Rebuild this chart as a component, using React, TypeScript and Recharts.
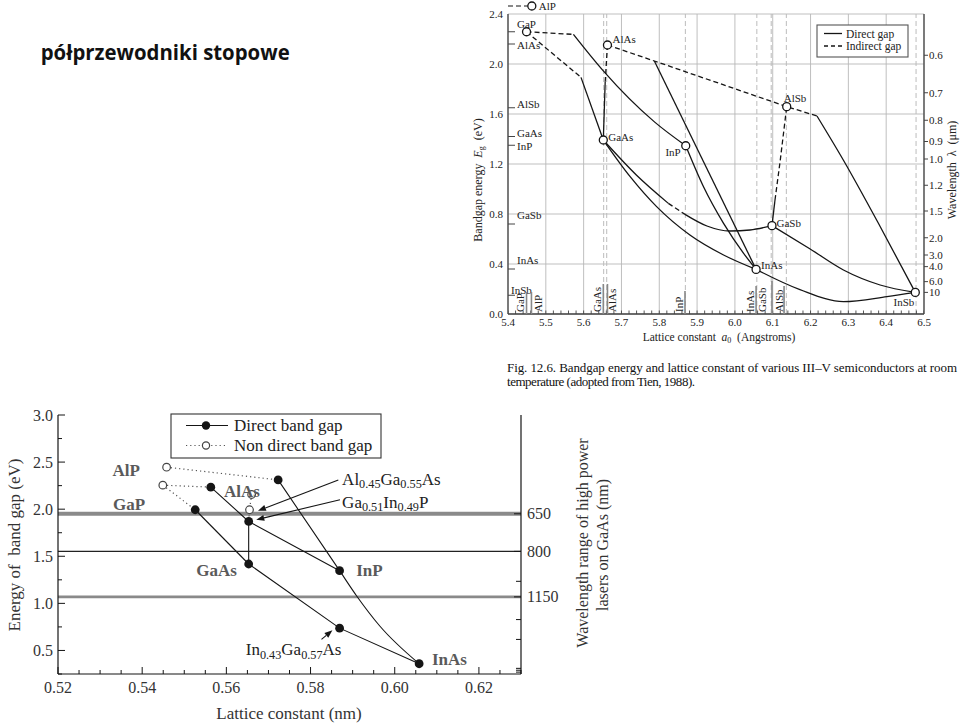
import React from 'react'
import { ComposedChart, Line, Scatter, XAxis, YAxis, CartesianGrid, ReferenceLine, ReferenceDot } from 'recharts'

const SERIF = '"Liberation Serif", "Times New Roman", serif'
const SANS = '"Open Sans", "Noto Sans", sans-serif'
const FRAME = '#444'
const INK = '#151515'

type P = [number, number]
const pts = (arr: P[]) => arr.map(([a, e]) => ({ a, e }))

// ---------------- upper figure: lattice constant (Å) vs band gap (eV) ----------------
const T_X_TICKS = [5.4, 5.5, 5.6, 5.7, 5.8, 5.9, 6.0, 6.1, 6.2, 6.3, 6.4, 6.5]
const T_X_MINOR = Array.from({ length: 56 }, (_, i) => +(5.4 + i * 0.02).toFixed(2))
const T_Y_TICKS = [0, 0.4, 0.8, 1.2, 1.6, 2.0, 2.4]
const T_WL_LABELS = ['0.6', '0.7', '0.8', '0.9', '1.0', '1.2', '1.5', '2.0', '3.0', '4.0', '6.0', '10']
const T_WL_EG = [2.07, 1.77, 1.55, 1.38, 1.24, 1.03, 0.824, 0.61, 0.472, 0.379, 0.259, 0.173]

const BIN_NAMES = ['GaP', 'AlAs', 'GaAs', 'InP', 'AlSb', 'GaSb', 'InAs', 'InSb']
const BIN_A = [5.449, 5.663, 5.652, 5.87, 6.137, 6.098, 6.056, 6.477]
const BIN_EG = [2.258, 2.152, 1.392, 1.346, 1.659, 0.707, 0.357, 0.173]
const ALP_A = 5.463
const ALP_EG = 2.464

// material lattice constants marked by dashed verticals
const T_MAT_LINES = [5.653, 5.661, 5.869, 6.058, 6.096, 6.136, 6.479]
const FOOT_NAMES = ['GaP', 'AlP', 'GaAs', 'AlAs', 'InP', 'InAs', 'GaSb', 'AlSb']
const FOOT_A = [5.449, 5.462, 5.652, 5.663, 5.868, 6.056, 6.098, 6.13]
const EDGE_NAMES = ['AlAs', 'AlSb', 'GaAs', 'InP', 'GaSb', 'InAs', 'InSb']
const EDGE_TEXT_EG = [2.152, 1.677, 1.445, 1.345, 0.792, 0.43, 0.19]
const EDGE_TICK_EG = [2.258, 2.16, 1.65, 1.42, 1.35, 0.72, 0.36, 0.15]

// alloy curves (dashed = indirect gap)
const GAP_INP_IND: P[] = [[5.449, 2.258], [5.573, 2.237]]
const GAP_INP: P[] = [[5.573, 2.237], [5.652, 1.945], [5.788, 1.535], [5.87, 1.346]]
const GAP_GAAS_IND: P[] = [[5.449, 2.258], [5.593, 1.893]]
const GAP_GAAS: P[] = [[5.593, 1.893], [5.652, 1.392]]
const ALAS_GAAS_IND: P[] = [[5.663, 2.152], [5.657, 1.858]]
const ALAS_GAAS: P[] = [[5.657, 1.858], [5.652, 1.392]]
const ALAS_ALSB_IND: P[] = [[5.663, 2.152], [5.787, 2.024], [6.137, 1.659], [6.217, 1.584]]
const ALAS_INAS: P[] = [[5.787, 2.024], [6.056, 0.357]]
const GAAS_INAS: P[] = [[5.652, 1.392], [5.723, 1.099], [5.793, 0.859], [5.881, 0.632], [5.97, 0.472], [6.056, 0.357]]
const GAAS_GASB_1: P[] = [[5.652, 1.392], [5.74, 1.11], [5.824, 0.885]]
const GAAS_GASB_GAP: P[] = [[5.824, 0.885], [5.868, 0.797]]
const GAAS_GASB_2: P[] = [[5.868, 0.797], [5.926, 0.704], [5.987, 0.664], [6.04, 0.672], [6.098, 0.707]]
const INP_INAS: P[] = [[5.87, 1.346], [5.917, 1.018], [5.97, 0.725], [6.023, 0.485], [6.056, 0.357]]
const GASB_ALSB: P[] = [[6.098, 0.707], [6.106, 0.912]]
const GASB_ALSB_IND: P[] = [[6.106, 0.912], [6.12, 1.232], [6.137, 1.659]]
const GASB_INSB: P[] = [[6.098, 0.707], [6.199, 0.52], [6.287, 0.352], [6.384, 0.232], [6.477, 0.173]]
const INAS_INSB: P[] = [[6.056, 0.357], [6.172, 0.195], [6.287, 0.099], [6.402, 0.139], [6.477, 0.173]]
const ALSB_INSB: P[] = [[6.217, 1.584], [6.287, 1.23], [6.384, 0.7], [6.477, 0.173]]

const T_SOLID = [GAP_INP, GAP_GAAS, ALAS_INAS, GAAS_INAS, GAAS_GASB_1, GAAS_GASB_2, INP_INAS, GASB_ALSB, GASB_INSB, INAS_INSB, ALSB_INSB]
const T_DASHED = [GAP_INP_IND, GAP_GAAS_IND, ALAS_ALSB_IND, GAAS_GASB_GAP, GASB_ALSB_IND]

const BIN_LABEL: Record<string, { dx: number; dy: number; anchor: 'start' | 'middle' | 'end' }> = {
  GaP: { dx: 0, dy: -8, anchor: 'middle' },
  AlAs: { dx: 5, dy: -6, anchor: 'start' },
  GaAs: { dx: 5, dy: -3, anchor: 'start' },
  InP: { dx: -5, dy: 6, anchor: 'end' },
  AlSb: { dx: -3, dy: -8.5, anchor: 'start' },
  GaSb: { dx: 4.5, dy: -2, anchor: 'start' },
  InAs: { dx: 5, dy: -4, anchor: 'start' },
  InSb: { dx: -1, dy: 9.5, anchor: 'end' },
}
const FOOT_STYLE: Record<string, { h: number; dx: number }> = {
  GaP: { h: 22, dx: -6.5 }, AlP: { h: 22, dx: 7 }, GaAs: { h: 30, dx: -6 }, AlAs: { h: 30, dx: 5 },
  InP: { h: 23, dx: -6 }, InAs: { h: 28, dx: -6 }, GaSb: { h: 33, dx: -9.5 }, AlSb: { h: 28, dx: -5 },
}

// ---------------- lower figure: lattice constant (nm) vs band gap (eV) ----------------
const B_X_TICKS = Array.from({ length: 23 }, (_, i) => +(0.52 + i * 0.005).toFixed(3))
const B_Y_TICKS = Array.from({ length: 12 }, (_, i) => +(0.25 + i * 0.25).toFixed(2))
const B_WL_LABELS = ['650', '800', '1150']
const B_WL_EG = [1.951, 1.552, 1.069]
const B_WL_MINOR = [1.234, 0.828, 0.617, 0.31, 0.29, 0.27]

const DIRECT_A = [0.5526, 0.5563, 0.5723, 0.5653, 0.5653, 0.5869, 0.5869, 0.6058]
const DIRECT_EG = [1.994, 2.234, 2.311, 1.87, 1.418, 1.347, 0.737, 0.359]
const INDIRECT_A = [0.5458, 0.5449, 0.566, 0.5655]
const INDIRECT_EG = [2.446, 2.255, 2.156, 1.994]

const B_GAASP: P[] = [[0.5526, 1.994], [0.5653, 1.418]]
const B_GAINAS: P[] = [[0.5653, 1.418], [0.5869, 0.737], [0.6058, 0.359]]
const B_GAINP: P[] = [[0.5563, 2.234], [0.5653, 1.87], [0.5869, 1.347]]
const B_INASP: P[] = [[0.5723, 2.311], [0.5869, 1.347], [0.591, 1.076], [0.5965, 0.757], [0.6058, 0.359]]
const B_ALGAAS: P[] = [[0.5653, 1.418], [0.5653, 1.87]]
const B_ALP_DOT: P[] = [[0.5458, 2.446], [0.5723, 2.311]]
const B_GAP_DOT1: P[] = [[0.5449, 2.255], [0.5563, 2.234]]
const B_GAP_DOT2: P[] = [[0.5449, 2.255], [0.5526, 1.994]]
const B_ALAS_DOT: P[] = [[0.566, 2.156], [0.5655, 1.994], [0.5653, 1.87]]

const B_LBL_TEXT = ['AlP', 'GaP', 'AlAs', 'GaAs', 'InP', 'InAs']
const B_LBL_A = [0.5362, 0.5369, 0.5637, 0.5577, 0.594, 0.613]
const B_LBL_EG = [2.417, 2.057, 2.19, 1.358, 1.358, 0.405]
const B_NOTE_TEXT = ['Al_{0.45}Ga_{0.55}As', 'Ga_{0.51}In_{0.49}P', 'In_{0.43}Ga_{0.57}As']
const B_NOTE_A = [0.5875, 0.5875, 0.5646]
const B_NOTE_EG = [2.32, 2.08, 0.511]
const B_ARROWS: [P, P][] = [
  [[0.5866, 2.311], [0.5675, 1.983]],
  [[0.587, 2.1], [0.5671, 1.888]],
  [[0.5826, 0.617], [0.5852, 0.715]],
]

// ---------------- helpers ----------------
function SubText({ x, y, text, size, anchor = 'start', weight = 400, fill = INK }: any) {
  const parts = String(text).split(/(_\{[^}]*\})/).filter(Boolean)
  let low = false
  return (
    <text x={x} y={y} fontSize={size} fontWeight={weight} textAnchor={anchor} fontFamily={SERIF} fill={fill} dominantBaseline="central">
      {parts.map((p, i) => {
        if (p.startsWith('_{')) {
          low = true
          return <tspan key={i} dy={size * 0.32} fontSize={size * 0.72}>{p.slice(2, -1)}</tspan>
        }
        const dy = low ? -size * 0.32 : 0
        low = false
        return <tspan key={i} dy={dy}>{p}</tspan>
      })}
    </text>
  )
}

const near = (list: number[], v: number) => list.findIndex((t) => Math.abs(t - v) < 1e-6)

const TopXTick = ({ x, y, payload }: any) => (
  <text x={x} y={y + 12} textAnchor="middle" fontSize={11} fontFamily={SERIF} fill="#222">{payload.value.toFixed(1)}</text>
)
const TopYTick = ({ x, y, payload }: any) => (
  <text x={x - 5} y={y} dy="0.35em" textAnchor="end" fontSize={11} fontFamily={SERIF} fill="#222">{payload.value.toFixed(1)}</text>
)
const TopWlTick = ({ x, y, payload }: any) => {
  const i = near(T_WL_EG, payload.value)
  return (
    <g>
      <line x1={x} y1={y} x2={x + 4} y2={y} stroke={FRAME} strokeWidth={1} />
      <text x={x + 5} y={y} dy="0.35em" textAnchor="start" fontSize={11} fontFamily={SERIF} fill="#222">{i >= 0 ? T_WL_LABELS[i] : ''}</text>
    </g>
  )
}

const isMajorX = (v: number) => Math.abs(v * 50 - Math.round(v * 50)) < 1e-6
const isMajorY = (v: number) => Math.abs(v * 2 - Math.round(v * 2)) < 1e-6

const BotXTick = ({ x, y, payload }: any) => {
  const major = isMajorX(payload.value)
  return (
    <g>
      <line x1={x} y1={y} x2={x} y2={y - (major ? 7 : 4)} stroke={INK} strokeWidth={1} />
      {major && <text x={x} y={y + 19} textAnchor="middle" fontSize={16} fontFamily={SERIF} fill="#333">{payload.value.toFixed(2)}</text>}
    </g>
  )
}
const TopEdgeTick = ({ x, y, payload }: any) => (
  <line x1={x} y1={y} x2={x} y2={y + (isMajorX(payload.value) ? 7 : 4)} stroke={INK} strokeWidth={1} />
)
const BotYTick = ({ x, y, payload }: any) => {
  const major = isMajorY(payload.value)
  return (
    <g>
      <line x1={x} y1={y} x2={x + (major ? 7 : 4)} y2={y} stroke={INK} strokeWidth={1} />
      {major && <text x={x - 5} y={y} dy="0.35em" textAnchor="end" fontSize={16} fontFamily={SERIF} fill="#333">{payload.value.toFixed(1)}</text>}
    </g>
  )
}
const BotWlTick = ({ x, y, payload }: any) => {
  const i = near(B_WL_EG, payload.value)
  return (
    <g>
      <line x1={x} y1={y} x2={x - (i >= 0 ? 7 : 5)} y2={y} stroke={INK} strokeWidth={1} />
      {i >= 0 && <text x={x + 6} y={y} dy="0.35em" textAnchor="start" fontSize={16} fontFamily={SERIF} fill="#333">{B_WL_LABELS[i]}</text>}
    </g>
  )
}

const Arrow = ({ x1, y1, x2, y2 }: any) => {
  const ang = Math.atan2(y2 - y1, x2 - x1)
  const L = 8
  const W = 3
  const bx = x2 - L * Math.cos(ang)
  const by = y2 - L * Math.sin(ang)
  const nx = -Math.sin(ang) * W
  const ny = Math.cos(ang) * W
  return (
    <g>
      <line x1={x1} y1={y1} x2={bx} y2={by} stroke={INK} strokeWidth={1.1} />
      <polygon points={`${x2},${y2} ${bx + nx},${by + ny} ${bx - nx},${by - ny}`} fill={INK} />
    </g>
  )
}

// ---------------- charts ----------------
function TopChart() {
  const binaries = BIN_NAMES.map((name, i) => ({ name, a: BIN_A[i], e: BIN_EG[i] }))
  const foot = FOOT_NAMES.map((name, i) => ({ name, a: FOOT_A[i], e: 0 }))
  const edgeText = EDGE_NAMES.map((name, i) => ({ name, a: 5.4, e: EDGE_TEXT_EG[i] }))
  const edgeTicks = EDGE_TICK_EG.map((e) => ({ a: 5.4, e }))
  const minor = T_X_MINOR.map((a) => ({ a, e: 0 }))
  return (
    <ComposedChart width={490} height={345} margin={{ top: 14, right: 0, bottom: 0, left: 0 }}>
      <CartesianGrid stroke="#b8b8b8" strokeWidth={0.9} />
      <XAxis dataKey="a" type="number" domain={[5.4, 6.5]} allowDataOverflow ticks={T_X_TICKS} interval={0} height={31}
        tickLine={false} tickSize={0} tickMargin={0} axisLine={{ stroke: FRAME, strokeWidth: 1.3 }} tick={TopXTick} />
      <XAxis xAxisId="frame" orientation="top" type="number" domain={[5.4, 6.5]} allowDataOverflow height={0}
        tick={false} tickLine={false} axisLine={{ stroke: FRAME, strokeWidth: 1.3 }} />
      <YAxis type="number" domain={[0, 2.4]} allowDataOverflow ticks={T_Y_TICKS} interval={0} width={38}
        tickLine={false} tickSize={0} tickMargin={0} axisLine={{ stroke: FRAME, strokeWidth: 1.3 }} tick={TopYTick} />
      <YAxis yAxisId="wl" orientation="right" type="number" domain={[0, 2.4]} allowDataOverflow ticks={T_WL_EG} interval={0} width={36}
        tickLine={false} tickSize={0} tickMargin={0} axisLine={{ stroke: FRAME, strokeWidth: 1.3 }} tick={TopWlTick} />

      {T_MAT_LINES.map((v) => (
        <ReferenceLine key={v} x={v} stroke="#bcbcbc" strokeWidth={1} strokeDasharray="5 3" />
      ))}

      {T_SOLID.map((c, i) => (
        <Line key={'s' + i} data={pts(c)} dataKey="e" type={c === GAP_GAAS ? 'linear' : 'monotone'} stroke={INK}
          strokeWidth={1.3} dot={false} activeDot={false} isAnimationActive={false} />
      ))}
      {T_DASHED.map((c, i) => (
        <Line key={'d' + i} data={pts(c)} dataKey="e" type="linear" stroke={INK} strokeWidth={1.3}
          strokeDasharray="5 3" dot={false} activeDot={false} isAnimationActive={false} />
      ))}
      <Line data={pts(ALAS_GAAS_IND)} dataKey="e" type="linear" stroke={INK} strokeWidth={1.3} strokeDasharray="5 3" dot={false} activeDot={false} isAnimationActive={false} />
      <Line data={pts(ALAS_GAAS)} dataKey="e" type="linear" stroke={INK} strokeWidth={1.3} dot={false} activeDot={false} isAnimationActive={false} />

      <ReferenceLine segment={[{ x: 5.4, y: ALP_EG }, { x: ALP_A, y: ALP_EG }]} ifOverflow="visible" stroke={INK} strokeWidth={1.2} strokeDasharray="5 3" />
      <ReferenceDot x={ALP_A} y={ALP_EG} r={4} fill="#fff" stroke={INK} strokeWidth={1.3} ifOverflow="visible"
        label={{ value: 'AlP', position: 'right', offset: 3, fontSize: 11, fontFamily: SERIF, fill: '#222' }} />

      <Scatter data={minor} dataKey="e" isAnimationActive={false}
        shape={(p: any) => <line x1={p.cx} y1={p.cy} x2={p.cx} y2={p.cy - 3.5} stroke={FRAME} strokeWidth={0.9} />} />
      <Scatter data={edgeTicks} dataKey="e" isAnimationActive={false}
        shape={(p: any) => <line x1={p.cx} y1={p.cy} x2={p.cx + 7} y2={p.cy} stroke={FRAME} strokeWidth={1} />} />
      <Scatter data={edgeText} dataKey="e" isAnimationActive={false}
        shape={(p: any) => (
          <text x={p.cx + (p.payload.name === 'InSb' ? 3 : 9)} y={p.cy} dy="0.35em" fontSize={11} fontFamily={SERIF} fill="#222">{p.payload.name}</text>
        )} />
      <Scatter data={foot} dataKey="e" isAnimationActive={false}
        shape={(p: any) => {
          const s = FOOT_STYLE[p.payload.name]
          const tx = p.cx + s.dx
          const ty = p.cy - 2
          return (
            <g>
              <line x1={p.cx} y1={p.cy} x2={p.cx} y2={p.cy - s.h} stroke="#888" strokeWidth={1.6} />
              <text x={tx} y={ty} transform={`rotate(-90 ${tx} ${ty})`} dy="0.35em" fontSize={11} fontFamily={SERIF} fill="#222">{p.payload.name}</text>
            </g>
          )
        }} />
      <Scatter data={binaries} dataKey="e" isAnimationActive={false}
        shape={(p: any) => {
          const l = BIN_LABEL[p.payload.name]
          return (
            <g>
              <circle cx={p.cx} cy={p.cy} r={4} fill="#fff" stroke={INK} strokeWidth={1.3} />
              <text x={p.cx + l.dx} y={p.cy + l.dy} dy="0.35em" textAnchor={l.anchor} fontSize={11} fontFamily={SERIF} fill="#222">{p.payload.name}</text>
            </g>
          )
        }} />
    </ComposedChart>
  )
}

function BottomChart() {
  const direct = DIRECT_A.map((a, i) => ({ a, e: DIRECT_EG[i] }))
  const indirect = INDIRECT_A.map((a, i) => ({ a, e: INDIRECT_EG[i] }))
  const labels = B_LBL_TEXT.map((t, i) => ({ t, a: B_LBL_A[i], e: B_LBL_EG[i] }))
  const notes = B_NOTE_TEXT.map((t, i) => ({ t, a: B_NOTE_A[i], e: B_NOTE_EG[i] }))
  const solid = [B_GAASP, B_GAINAS, B_GAINP, B_ALGAAS]
  const dotted = [B_ALP_DOT, B_GAP_DOT1, B_GAP_DOT2, B_ALAS_DOT]
  return (
    <ComposedChart width={560} height={323} margin={{ top: 15, right: 0, bottom: 0, left: 0 }}>
      <XAxis dataKey="a" type="number" domain={[0.52, 0.63]} allowDataOverflow ticks={B_X_TICKS} interval={0} height={49}
        tickLine={false} tickSize={0} tickMargin={0} axisLine={{ stroke: INK, strokeWidth: 1.2 }} tick={BotXTick} />
      <XAxis xAxisId="top" orientation="top" type="number" domain={[0.52, 0.63]} allowDataOverflow ticks={B_X_TICKS} interval={0} height={0}
        tickLine={false} tickSize={0} tickMargin={0} axisLine={{ stroke: INK, strokeWidth: 1.2 }} tick={TopEdgeTick} />
      <YAxis type="number" domain={[0.25, 3]} allowDataOverflow ticks={B_Y_TICKS} interval={0} width={58}
        tickLine={false} tickSize={0} tickMargin={0} axisLine={{ stroke: INK, strokeWidth: 1.2 }} tick={BotYTick} />
      <YAxis yAxisId="wl" orientation="right" type="number" domain={[0.25, 3]} allowDataOverflow ticks={[...B_WL_EG, ...B_WL_MINOR]} interval={0} width={39}
        tickLine={false} tickSize={0} tickMargin={0} axisLine={{ stroke: INK, strokeWidth: 1.2 }} tick={BotWlTick} />

      <ReferenceLine y={B_WL_EG[0]} stroke="#8a8a8a" strokeWidth={4} />
      <ReferenceLine y={B_WL_EG[1]} stroke="#222" strokeWidth={1.2} />
      <ReferenceLine y={B_WL_EG[2]} stroke="#8a8a8a" strokeWidth={2.6} />

      {solid.map((c, i) => (
        <Line key={'s' + i} data={pts(c)} dataKey="e" type="linear" stroke={INK} strokeWidth={1.1} dot={false} activeDot={false} isAnimationActive={false} />
      ))}
      <Line data={pts(B_INASP)} dataKey="e" type="monotone" stroke={INK} strokeWidth={1.1} dot={false} activeDot={false} isAnimationActive={false} />
      {dotted.map((c, i) => (
        <Line key={'d' + i} data={pts(c)} dataKey="e" type="linear" stroke="#555" strokeWidth={1.2} strokeDasharray="1.2 3"
          dot={false} activeDot={false} isAnimationActive={false} />
      ))}

      {B_ARROWS.map(([f, t], i) => (
        <ReferenceLine key={'ar' + i} segment={[{ x: f[0], y: f[1] }, { x: t[0], y: t[1] }]} ifOverflow="visible" shape={Arrow} />
      ))}

      <Scatter data={indirect} dataKey="e" isAnimationActive={false}
        shape={(p: any) => <circle cx={p.cx} cy={p.cy} r={3.8} fill="#fff" stroke="#444" strokeWidth={1.2} />} />
      <Scatter data={direct} dataKey="e" isAnimationActive={false}
        shape={(p: any) => <circle cx={p.cx} cy={p.cy} r={4.4} fill={INK} />} />
      <Scatter data={labels} dataKey="e" isAnimationActive={false}
        shape={(p: any) => (
          <text x={p.cx} y={p.cy} dy="0.35em" textAnchor="middle" fontSize={17} fontWeight={700} fontFamily={SERIF} fill="#5a5a5a">{p.payload.t}</text>
        )} />
      <Scatter data={notes} dataKey="e" isAnimationActive={false}
        shape={(p: any) => <SubText x={p.cx} y={p.cy} text={p.payload.t} size={17} fill="#222" />} />
    </ComposedChart>
  )
}

function Overlay() {
  const nb = '\u00a0'
  return (
    <svg width={960} height={723} style={{ position: 'absolute', left: 0, top: 0, pointerEvents: 'none' }}>
      <text x={40.7} y={60} fontFamily={SANS} fontWeight={700} fontSize={21} textLength={249} lengthAdjust="spacingAndGlyphs" fill="#111">
        półprzewodniki stopowe
      </text>

      {/* upper figure titles */}
      <text transform="translate(478,180) rotate(-90)" textAnchor="middle" dominantBaseline="central" fontSize={12} fontFamily={SERIF} fill="#222">
        {'Bandgap energy' + nb + nb}
        <tspan fontStyle="italic">E</tspan>
        <tspan fontSize={8} dy={3}>g</tspan>
        <tspan dy={-3}>{nb + nb + '(eV)'}</tspan>
      </text>
      <text x={719} y={337} textAnchor="middle" dominantBaseline="central" fontSize={11.5} fontFamily={SERIF} fill="#222">
        {'Lattice constant' + nb + nb}
        <tspan fontStyle="italic">a</tspan>
        <tspan fontSize={8} dy={3}>0</tspan>
        <tspan dy={-3}>{nb + nb + '(Angstroms)'}</tspan>
      </text>
      <text transform="translate(952,170) rotate(-90)" textAnchor="middle" dominantBaseline="central" fontSize={12} fontFamily={SERIF} fill="#222">
        {'Wavelength' + nb + nb + 'λ' + nb + nb + '(μm)'}
      </text>
      <g>
        <rect x={817} y={25} width={91} height={32} fill="#fff" stroke="#555" strokeWidth={1.1} />
        <line x1={824} y1={33.5} x2={842} y2={33.5} stroke={INK} strokeWidth={1.3} />
        <text x={846} y={33.5} dy="0.35em" fontSize={11.5} fontFamily={SERIF} fill="#222">Direct gap</text>
        <line x1={824} y1={46} x2={842} y2={46} stroke={INK} strokeWidth={1.3} strokeDasharray="4 3" />
        <text x={846} y={46} dy="0.35em" fontSize={11.5} fontFamily={SERIF} fill="#222">Indirect gap</text>
      </g>
      <text x={507} y={372} fontSize={13} fontFamily={SERIF} fill="#111" textLength={450} lengthAdjust="spacing">
        Fig. 12.6. Bandgap energy and lattice constant of various III–V semiconductors at room
      </text>
      <text x={507} y={386} fontSize={13} fontFamily={SERIF} fill="#111" textLength={188} lengthAdjust="spacing">
        temperature (adopted from Tien, 1988).
      </text>

      {/* lower figure titles */}
      <text transform="translate(14,545) rotate(-90)" textAnchor="middle" dominantBaseline="central" fontSize={17} fontFamily={SERIF} fill="#333">
        {'Energy of' + nb + nb + 'band gap (eV)'}
      </text>
      <text x={289} y={713} textAnchor="middle" dominantBaseline="central" fontSize={17} fontFamily={SERIF} fill="#333">Lattice constant (nm)</text>
      <text transform="translate(582,543) rotate(-90)" textAnchor="middle" dominantBaseline="central" fontSize={16} fontFamily={SERIF} fill="#333">
        Wavelength range of high power
      </text>
      <text transform="translate(602,545) rotate(-90)" textAnchor="middle" dominantBaseline="central" fontSize={16} fontFamily={SERIF} fill="#333">
        lasers on GaAs (nm)
      </text>
      <g>
        <rect x={171} y={414} width={210} height={44} fill="#fff" stroke="#333" strokeWidth={1.1} />
        <line x1={186} y1={425.5} x2={228} y2={425.5} stroke={INK} strokeWidth={1.1} />
        <circle cx={206} cy={425.5} r={4.2} fill={INK} />
        <text x={234} y={425.5} dy="0.35em" fontSize={17} fontFamily={SERIF} fill="#222">Direct band gap</text>
        <line x1={186} y1={445.5} x2={226} y2={445.5} stroke="#555" strokeWidth={1.2} strokeDasharray="1.2 3" />
        <circle cx={206} cy={445.5} r={3.6} fill="#fff" stroke="#444" strokeWidth={1.2} />
        <text x={234} y={445.5} dy="0.35em" fontSize={17} fontFamily={SERIF} fill="#222">Non direct band gap</text>
      </g>
    </svg>
  )
}

export default function App() {
  return (
    <div style={{ position: 'absolute', left: 0, top: 0, width: 960, height: 723, background: '#fff', overflow: 'hidden' }}>
      <div style={{ position: 'absolute', left: 470, top: 0 }}>
        <TopChart />
      </div>
      <div style={{ position: 'absolute', left: 0, top: 400 }}>
        <BottomChart />
      </div>
      <Overlay />
    </div>
  )
}
